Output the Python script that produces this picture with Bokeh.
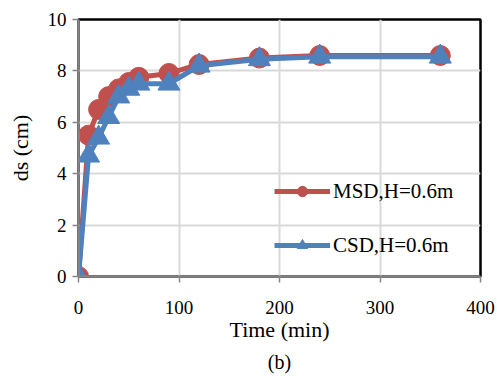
from bokeh.plotting import figure
from bokeh.models import Legend, LegendItem, FixedTicker, Range1d, Title
from bokeh.embed import file_html
from bokeh.resources import INLINE

time_min = [0, 10, 20, 30, 40, 50, 60, 90, 120, 180, 240, 360]
msd = [0, 5.5, 6.5, 7.0, 7.3, 7.55, 7.75, 7.9, 8.25, 8.5, 8.6, 8.6]
csd = [0, 4.7, 5.4, 6.2, 7.0, 7.3, 7.5, 7.5, 8.2, 8.45, 8.55, 8.55]
x_ticks = [0, 100, 200, 300, 400]
y_ticks = [0, 2, 4, 6, 8, 10]
labels = ["MSD,H=0.6m", "CSD,H=0.6m"]

RED = "#C0504D"
BLUE = "#4F81BD"
FONT = "Liberation Serif"

p = figure(width=497, height=376, output_backend="svg", toolbar_location=None,
           x_range=Range1d(0, 400), y_range=Range1d(0, 10),
           min_border_left=78, min_border_right=17, min_border_top=19, min_border_bottom=60)

xax = p.xaxis[0]
yax = p.yaxis[0]
xax.ticker = FixedTicker(ticks=x_ticks)
yax.ticker = FixedTicker(ticks=y_ticks)
for ax in (xax, yax):
    ax.minor_tick_line_color = None
    ax.major_label_text_font = FONT
    ax.major_label_text_font_size = "19px"
    ax.major_label_text_font_style = "normal"
    ax.major_label_text_color = "black"
    ax.axis_label_text_font = FONT
    ax.axis_label_text_font_size = "22px"
    ax.axis_label_text_font_style = "normal"
    ax.axis_label_text_color = "black"
    ax.axis_line_color = "#868686"
    ax.axis_line_width = 2.5
    ax.major_tick_line_color = "#868686"
    ax.major_tick_line_width = 1.5
    ax.major_tick_in = 0
    ax.major_tick_out = 6
xax.axis_label = "Time (min)"
yax.axis_label = "ds (cm)"
xax.major_label_standoff = 18
yax.major_label_standoff = 6
xax.axis_label_standoff = 0
yax.axis_label_standoff = 12

p.xgrid.ticker = FixedTicker(ticks=x_ticks)
p.ygrid.ticker = FixedTicker(ticks=y_ticks)
p.grid.grid_line_color = "#D9D9D9"
p.grid.grid_line_width = 2

p.outline_line_color = "black"
p.outline_line_width = 2.5

r_line = p.line(time_min, msd, line_color=RED, line_width=5)
r_pts = p.scatter(time_min, msd, marker="circle", size=20, fill_color=RED, line_color=RED)
b_line = p.line(time_min, csd, line_color=BLUE, line_width=5)
b_pts = p.scatter(time_min, csd, marker="triangle", size=22, fill_color=BLUE, line_color=BLUE)

legend = Legend(items=[LegendItem(label=labels[0], renderers=[r_line, r_pts]),
                       LegendItem(label=labels[1], renderers=[b_line, b_pts])],
                location=(196, 18), orientation="vertical")
legend.glyph_width = 56
legend.glyph_height = 26
legend.label_standoff = 3
legend.spacing = 28
legend.padding = 0
legend.margin = 0
legend.label_text_font = FONT
legend.label_text_font_size = "21px"
legend.label_text_color = "black"
legend.background_fill_alpha = 0
legend.border_line_alpha = 0
p.add_layout(legend)

cap = Title(text="(b)", align="center", text_font=FONT, text_font_size="20px",
            text_font_style="normal", text_color="black", offset=-14, standoff=8)
p.add_layout(cap, "below")

open("out.html", "w").write(file_html(p, INLINE))
